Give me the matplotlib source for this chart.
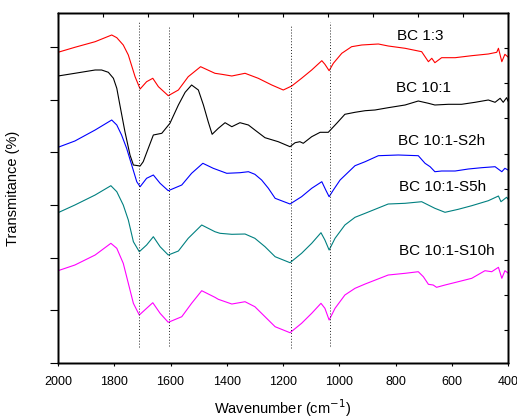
import numpy as np
import matplotlib
matplotlib.use('Agg')
import matplotlib.pyplot as plt

plt.rcParams['font.family'] = ['Liberation Sans', 'DejaVu Sans']

# Odczytane wartosci widm (liczba falowa [cm-1], transmitancja [j.u.])
w_red = [2000, 1940, 1868, 1809, 1791, 1768, 1750, 1726, 1708, 1685, 1663, 1643, 1608,
         1572, 1537, 1493, 1442, 1418, 1382, 1335, 1288, 1240, 1199, 1169, 1134, 1098,
         1062, 1051, 1036, 1021, 991, 956, 920, 861, 826, 766, 707, 683, 671, 660, 636,
         588, 529, 470, 440, 434, 422, 411, 400]
t_red = [310.7, 315.7, 321.3, 328, 325.3, 318, 308, 286.3, 274, 281.3, 284.7, 276.3, 267.3,
         273, 286.3, 296.3, 289.7, 288.7, 287, 289.7, 284.7, 278, 273, 277, 284.7, 293,
         302.3, 298.7, 292.3, 299.7, 309.7, 316.3, 318, 319, 317, 314.7, 311.3, 301.3, 304.7,
         300.3, 305.3, 305.3, 307.3, 309, 310.7, 314.7, 301.3, 308.7, 306]

w_black = [2000, 1940, 1868, 1845, 1821, 1803, 1791, 1780, 1762, 1744, 1732, 1708, 1697,
           1679, 1661, 1631, 1602, 1572, 1548, 1525, 1501, 1483, 1466, 1452, 1430, 1406,
           1382, 1353, 1323, 1300, 1264, 1217, 1175, 1157, 1140, 1128, 1098, 1068, 1039,
           1009, 980, 944, 908, 873, 826, 766, 719, 683, 660, 612, 565, 517, 470, 446, 428,
           417, 405, 400]
t_black = [287, 289.7, 293, 293, 290.7, 284.7, 274.7, 258, 231.3, 208, 198, 197, 201.3,
           214.7, 228, 229.7, 239.7, 258, 270.7, 278, 273, 258, 241.3, 228.7, 234.7, 240.3,
           236.3, 240.3, 238, 233, 225.3, 221.3, 216.3, 220.3, 221.3, 219.7, 226.3, 230.7, 230.7,
           239.7, 248.7, 250.7, 252.3, 253, 255.3, 258, 262, 259.7, 258, 258.7, 258.7, 260.7,
           263, 260.7, 264.7, 260.7, 265.3, 262]

w_blue = [2000, 1940, 1868, 1809, 1791, 1774, 1756, 1738, 1720, 1708, 1685, 1661, 1637,
          1608, 1560, 1525, 1485, 1448, 1400, 1353, 1323, 1300, 1276, 1252, 1228, 1175,
          1134, 1098, 1062, 1048, 1036, 1021, 997, 944, 908, 861, 790, 719, 695, 677, 660,
          636, 588, 541, 494, 446, 422, 411, 400]
t_blue = [215.7, 222, 233, 243, 238, 228, 214.7, 198, 181.3, 176.3, 184.7, 188, 179.7,
          172.3, 178, 189.7, 199.7, 194.7, 189.7, 190.3, 191.3, 188.7, 183, 174.7, 164.7, 159,
          166.3, 174.7, 181.3, 173, 166.3, 173, 183, 197.3, 201.3, 207.3, 208, 207.3, 199.7,
          196.3, 191.3, 192, 192, 194, 195.3, 196.3, 191.3, 194.7, 193]

w_teal = [2000, 1940, 1868, 1812, 1791, 1768, 1750, 1732, 1711, 1685, 1661, 1637, 1608,
          1572, 1537, 1489, 1442, 1424, 1382, 1335, 1300, 1264, 1228, 1175, 1134, 1098,
          1065, 1051, 1036, 1015, 980, 944, 908, 826, 766, 707, 660, 624, 577, 529, 470,
          434, 425, 405, 400]
t_teal = [150.3, 158, 168, 177.3, 171.3, 158, 143, 121.3, 111.3, 118, 126.3, 116.3, 108,
          112, 124.7, 138, 131.3, 129.7, 128.7, 129, 124.7, 116.3, 106.3, 100.3, 109.7, 119.7,
          130.3, 123, 113, 124.7, 138, 145.7, 149.7, 159, 159.7, 161.3, 154.7, 150.7, 153.7,
          157.3, 162.3, 167, 161.3, 165.7, 164]

w_mag = [2000, 1940, 1868, 1812, 1791, 1768, 1750, 1732, 1711, 1685, 1663, 1637, 1608,
         1560, 1525, 1489, 1442, 1430, 1382, 1335, 1300, 1264, 1228, 1175, 1134, 1098,
         1065, 1051, 1036, 1015, 980, 944, 908, 826, 766, 719, 701, 683, 666, 654, 624,
         577, 529, 482, 458, 434, 422, 411, 400]
t_mag = [92.3, 98, 108, 119.7, 114.7, 99.7, 79.7, 59.7, 48, 54.7, 60.3, 49.7, 40.7,
         46.3, 59.7, 72.3, 65.7, 63.7, 59, 61.3, 56.3, 46.3, 36.3, 30.3, 39.7, 49.7,
         59.7, 54.7, 43, 54.7, 68, 74.7, 79, 88, 89.7, 91.3, 86.3, 78.7, 78, 75.7, 78,
         81.3, 84.7, 92.3, 91.3, 95.7, 84.7, 92.3, 90]

serie = [
    ('BC 1:3', w_red, t_red, '#ff0000'),
    ('BC 10:1', w_black, t_black, '#000000'),
    ('BC 10:1-S2h', w_blue, t_blue, '#0000ff'),
    ('BC 10:1-S5h', w_teal, t_teal, '#008080'),
    ('BC 10:1-S10h', w_mag, t_mag, '#ff00ff'),
]

# Polozenie podpisow (liczba falowa, transmitancja linii bazowej tekstu)
label_w = [796, 798, 790, 788, 788]
label_t = [323, 271.3, 218, 172.5, 108]

# Linie pionowe (pasma)
pasma = [1711, 1605, 1173, 1034]
pasma_top = [342.3, 337.3, 338, 341.3]
pasma_bottom = [16.3, 17.3, 15.3, 17]

fig = plt.figure(figsize=(5.17, 4.19), dpi=100)
ax = fig.add_axes([0.1122, 0.1336, 0.8704, 0.8354])

for (nazwa, w, t, kolor), lx, ly in zip(serie, label_w, label_t):
    ax.plot(w, t, color=kolor, linewidth=0.8)
    ax.text(lx, ly, nazwa, fontsize=11, ha='left', va='baseline')

for p, g, d in zip(pasma, pasma_top, pasma_bottom):
    ax.plot([p, p], [d, g], color='#222222', linewidth=0.7, linestyle=(0, (1, 2)))

ax.set_xlim(2000, 400)
ax.set_ylim(0, 350)
ax.set_xticks(np.arange(2000, 399, -200))
ax.tick_params(axis='x', direction='out', length=2.5, width=0.8, pad=6.5, labelsize=9)
ax.set_yticks(np.arange(0, 350, 350 / 6.65))
ax.tick_params(axis='y', direction='out', length=5.5, width=0.8, labelleft=False)
ax.set_xlabel('Wavenumber (cm$^{-1}$)', fontsize=10.5, labelpad=7)
ax.set_ylabel('Transmitance (%)', fontsize=10.5)
ax.yaxis.set_label_coords(-0.085, 0.5)

# Prawa i gorna os - tylko znaczniki
ax_r = ax.twinx()
ax_r.set_ylim(0, 350)
ax_r.set_yticks(315.3 - 35.3 * np.arange(9))
ax_r.tick_params(axis='y', direction='in', length=3, width=0.8, labelright=False)

ax_t = ax.twiny()
ax_t.set_xlim(2000, 400)
ax_t.set_xticks(np.arange(2000, 399, -160))
ax_t.tick_params(axis='x', direction='in', length=3, width=0.8, labeltop=False)

for a in (ax, ax_r, ax_t):
    for s in a.spines.values():
        s.set_linewidth(1.0)

plt.savefig('out.png', dpi=100)
plt.close(fig)
